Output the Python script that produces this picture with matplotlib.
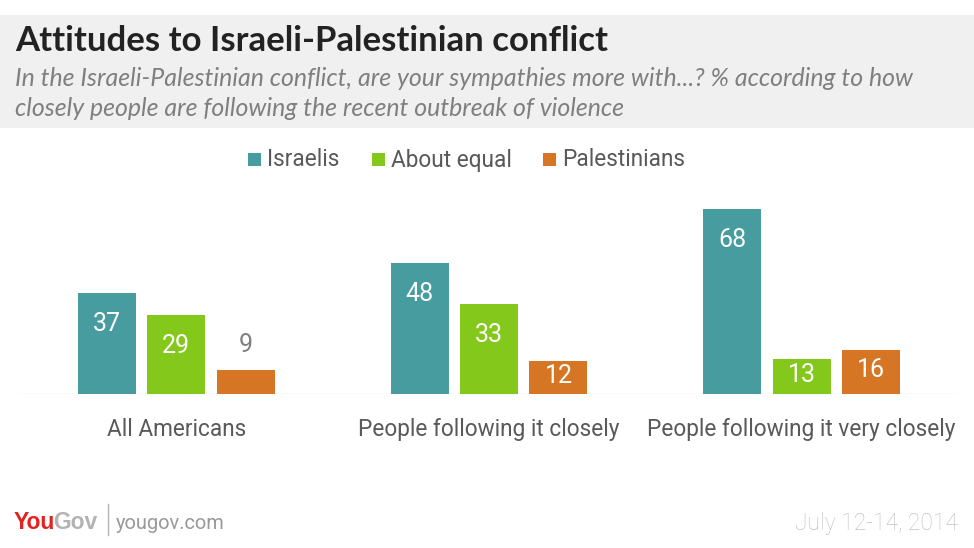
import matplotlib
matplotlib.use('Agg')
import matplotlib.pyplot as plt
import numpy as np
from matplotlib.patches import Rectangle

# data
groups = ['All Americans', 'People following it closely', 'People following it very closely']
series = ['Israelis', 'About equal', 'Palestinians']
israelis = [37, 48, 68]
about_equal = [29, 33, 13]
palestinians = [9, 12, 16]
colors = ['#469c9f', '#84c81b', '#d67624']

W, H = 974, 548
fig = plt.figure(figsize=(W / 100, H / 100), dpi=100)
fig.patch.set_facecolor('white')


def fx(x):
    return x / W


def fy(y):
    return 1 - y / H


# grey header band
fig.patches.append(Rectangle((0, fy(128)), 1, (128 - 15) / H, transform=fig.transFigure,
                             facecolor='#f0f0f0', edgecolor='none', zorder=0))
fig.text(fx(15), fy(41), 'Attitudes to Israeli-Palestinian conflict', fontsize=25,
         fontweight='bold', family='Lato', color='#222222', va='center')
fig.text(fx(15), fy(78), 'In the Israeli-Palestinian conflict, are your sympathies more with...? % according to how',
         fontsize=17.9, style='italic', family='Lato', color='#7f7f7f', va='center')
fig.text(fx(15), fy(108), 'closely people are following the recent outbreak of violence',
         fontsize=17.9, style='italic', family='Lato', color='#7f7f7f', va='center')

# axes: baseline at y=394, 2.72 px per percentage point
top_px = 394 - 70 * 2.72
ax = fig.add_axes([fx(20), fy(394), (958 - 20) / W, (394 - top_px) / H])
ax.set_xlim(-0.5, 2.5)
ax.set_ylim(0, 70)
ax.axis('off')
ax.axhline(0, color='#e6e6e6', lw=1)

x = np.arange(len(groups))
step = 69.5 / 312.7
width = 58 / 312.7
all_vals = [israelis, about_equal, palestinians]
for i, (vals, col) in enumerate(zip(all_vals, colors)):
    pos = x + (i - 1) * step
    ax.bar(pos, vals, width=width, color=col, zorder=2)
    for p, v in zip(pos, vals):
        if v < 10:
            ax.text(p, v + 9, str(v), ha='center', va='center', fontsize=18,
                    family='Roboto', color='#808080')
        else:
            ax.text(p, max(v - 11.3, v * 0.55), str(v), ha='center', va='center', fontsize=18,
                    family='Roboto', color='white', zorder=3)

for g, name in zip(x, groups):
    ax.text(g, -13.2, name, ha='center', va='center', fontsize=16.3,
            family='Roboto', color='#595959')

# legend
leg_items = [(248, 'Israelis'), (372, 'About equal'), (543, 'Palestinians')]
for (lx, lab), col in zip(leg_items, colors):
    fig.patches.append(Rectangle((fx(lx), fy(166)), 13 / W, 13 / H, transform=fig.transFigure,
                                 facecolor=col, edgecolor='none'))
    fig.text(fx(lx + 19), fy(160), lab, fontsize=16.3, family='Roboto', color='#595959', va='center')

# footer
fig.text(fx(14), fy(529), 'You', fontsize=16.5, fontweight='bold', family='Liberation Sans',
         color='#e3231f', va='baseline')
fig.text(fx(53), fy(529), 'Gov', fontsize=16.5, fontweight='bold', family='Liberation Sans',
         color='#b3b3b3', va='baseline')
fig.lines.append(plt.Line2D([fx(108), fx(108)], [fy(504), fy(535)], transform=fig.transFigure,
                            color='#b3b3b3', lw=1))
fig.text(fx(116), fy(529), 'yougov.com', fontsize=14.4, family='Roboto', color='#999999', va='baseline')
fig.text(fx(958), fy(530), 'July 12-14, 2014', fontsize=16.5, family='Roboto', color='#c2c2c2',
         va='baseline', ha='right', fontweight='light')

fig.savefig('out.png', dpi=100)
